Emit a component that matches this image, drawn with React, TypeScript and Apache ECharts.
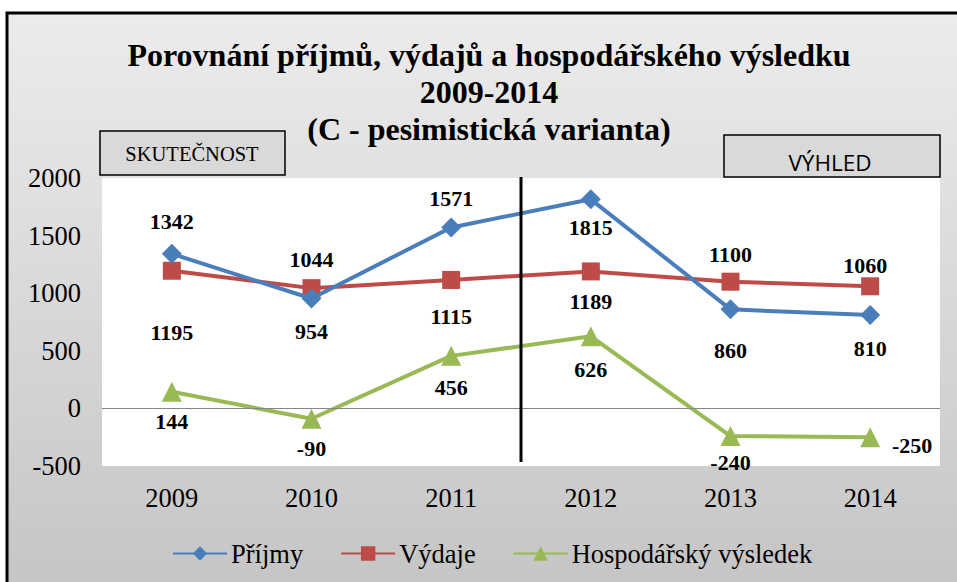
import React, { useEffect, useRef } from "react";
import * as echarts from "echarts";

const categories = ["2009", "2010", "2011", "2012", "2013", "2014"];
const prijmy = [1342, 954, 1571, 1815, 860, 810];
const vydaje = [1195, 1044, 1115, 1189, 1100, 1060];
const vysledek = [144, -90, 456, 626, -240, -250];
const seriesNames = ["Příjmy", "Výdaje", "Hospodářský výsledek"];
const titleLines = ["Porovnání příjmů, výdajů a hospodářského výsledku", "2009-2014", "(C - pesimistická varianta)"];

// label offsets (dx, dy) per point
const prijmyOff = [[0, -32], [0, 33], [0, -29], [0, 28], [0, 41], [0, 33]];
const vydajeOff = [[0, 62], [0, -29], [0, 37], [0, 30], [0, -27], [-5, -21]];
const vysledekOff = [[0, 30], [0, 30], [0, 32], [0, 33], [0, 26], [42, 8]];

const SERIF = "Liberation Serif";

function mkData(vals: number[], offs: number[][]) {
  return vals.map((v, i) => ({
    value: v,
    label: { offset: offs[i] },
  }));
}

export default function App() {
  const ref = useRef<HTMLDivElement>(null);
  useEffect(() => {
    if (!ref.current) return;
    const chart = echarts.init(ref.current, null, { renderer: "svg" });
    const labelCommon = {
      show: true,
      position: "inside",
      fontFamily: SERIF,
      fontWeight: "bold",
      fontSize: 22,
      color: "#000",
    };
    const option: any = {
      animation: false,
      backgroundColor: "transparent",
      grid: {
        left: 102,
        right: 17,
        top: 178,
        bottom: 116,
        show: true,
        backgroundColor: "#ffffff",
        borderWidth: 0,
      },
      xAxis: {
        type: "category",
        data: categories,
        boundaryGap: true,
        axisLine: { show: false },
        axisTick: { show: false },
        axisLabel: { fontFamily: SERIF, fontSize: 26.5, color: "#000", margin: 18 },
        splitLine: { show: false },
      },
      yAxis: {
        type: "value",
        min: -500,
        max: 2000,
        interval: 500,
        axisLine: { show: false },
        axisTick: { show: false },
        splitLine: { show: false },
        axisLabel: {
          fontFamily: SERIF,
          fontSize: 26.5,
          color: "#000",
          margin: 21,
          formatter: (v: number) => String(v),
        },
      },
      legend: {
        data: seriesNames,
        left: 172,
        top: 540,
        padding: 0,
        itemWidth: 54,
        itemHeight: 18,
        itemGap: 37,
        textStyle: { fontFamily: SERIF, fontSize: 26.5, color: "#000", padding: [0, 0, 0, -1] },
      },
      series: [
        {
          name: seriesNames[0],
          type: "line",
          data: mkData(prijmy, prijmyOff),
          symbol: "diamond",
          symbolSize: 20,
          lineStyle: { width: 4, color: "#4a7ebb" },
          itemStyle: { color: "#4a7ebb" },
          label: labelCommon,
          z: 3,
          markLine: {
            silent: true,
            symbol: "none",
            label: { show: false },
            lineStyle: { color: "#868686", width: 1, type: "solid" },
            data: [{ yAxis: 0 }],
          },
        },
        {
          name: seriesNames[1],
          type: "line",
          data: mkData(vydaje, vydajeOff),
          symbol: "rect",
          symbolSize: 18,
          lineStyle: { width: 4, color: "#be4b48" },
          itemStyle: { color: "#be4b48" },
          label: labelCommon,
          z: 2,
        },
        {
          name: seriesNames[2],
          type: "line",
          data: mkData(vysledek, vysledekOff),
          symbol: "triangle",
          symbolSize: 20,
          lineStyle: { width: 4, color: "#98b954" },
          itemStyle: { color: "#98b954" },
          label: labelCommon,
          z: 2,
        },
      ],
    };
    chart.setOption(option);

    const x1 = chart.convertToPixel({ xAxisIndex: 0 }, categories[2]) as number;
    const x2 = chart.convertToPixel({ xAxisIndex: 0 }, categories[3]) as number;
    const yTop = chart.convertToPixel({ yAxisIndex: 0 }, 2000) as number;
    const yBot = chart.convertToPixel({ yAxisIndex: 0 }, -500) as number;
    const xm = (x1 + x2) / 2;

    chart.setOption({
      graphic: [
        {
          type: "rect",
          z: -10,
          silent: true,
          shape: { x: 7, y: 13, width: 1000, height: 620 },
          style: {
            fill: new echarts.graphic.LinearGradient(0, 0, 0, 1, [
              { offset: 0, color: "#ececec" },
              { offset: 1, color: "#c2c2c2" },
            ]),
            stroke: "#000",
            lineWidth: 3,
          },
        },
        {
          type: "text",
          z: 10,
          style: {
            text: titleLines.join("\n"),
            x: 489,
            y: 36,
            align: "center",
            verticalAlign: "top",
            fontFamily: SERIF,
            fontWeight: "bold",
            fontSize: 32,
            lineHeight: 37,
            fill: "#000",
          },
        },
        {
          type: "rect",
          z: 10,
          shape: { x: 100, y: 131, width: 185, height: 44 },
          style: { fill: "#d9d9d9", stroke: "#000", lineWidth: 1.5 },
        },
        {
          type: "text",
          z: 11,
          style: {
            text: "SKUTEČNOST",
            x: 192,
            y: 154,
            align: "center",
            verticalAlign: "middle",
            fontFamily: SERIF,
            fontSize: 20.5,
            fill: "#000",
          },
        },
        {
          type: "rect",
          z: 10,
          shape: { x: 724, y: 135, width: 216, height: 42 },
          style: { fill: "#d9d9d9", stroke: "#000", lineWidth: 1.5 },
        },
        {
          type: "text",
          z: 11,
          style: {
            text: "VÝHLED",
            x: 830,
            y: 162,
            align: "center",
            verticalAlign: "middle",
            fontFamily: "Open Sans",
            fontSize: 22.5,
            fill: "#000",
          },
        },
        {
          type: "line",
          z: 5,
          silent: true,
          shape: { x1: xm, y1: yTop - 1, x2: xm, y2: yBot - 4 },
          style: { stroke: "#000", lineWidth: 3 },
        },
      ],
    });

    return () => chart.dispose();
  }, []);
  return (
    <div
      ref={ref}
      style={{ position: "absolute", left: 0, top: 0, width: 957, height: 582 }}
    />
  );
}
